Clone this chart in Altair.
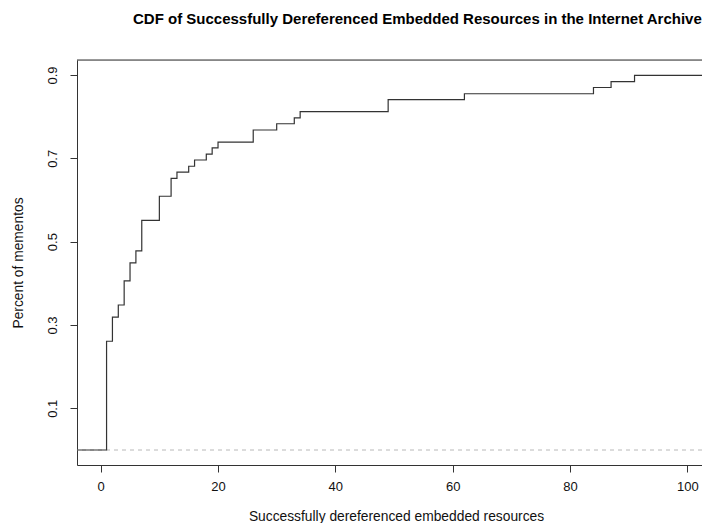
import altair as alt
import pandas as pd

# Step points of the CDF (x = resources, y = fraction of mementos)
step_x = [-4.04, 1, 2, 3, 4, 5, 6, 7, 10, 12, 13, 15, 16, 18, 19, 20, 26, 30, 33, 34, 49, 62, 84, 87, 91, 105]
step_y = [0.0, 0.261, 0.319, 0.348, 0.406, 0.449, 0.478, 0.551, 0.609, 0.652, 0.667, 0.681, 0.696,
          0.710, 0.725, 0.739, 0.768, 0.783, 0.797, 0.812, 0.841, 0.855, 0.870, 0.884, 0.899, 0.899]
x_ticks = [0, 20, 40, 60, 80, 100]
y_ticks = [0.1, 0.3, 0.5, 0.7, 0.9]
baseline_level = [0.0]

FONT = "Liberation Sans"
W, H = 625, 405

df = pd.DataFrame({"x": step_x, "y": step_y})

xscale = alt.Scale(domain=[-4.04, 102.5], nice=False, zero=False)
yscale = alt.Scale(domain=[-0.036, 0.936], nice=False, zero=False)

xaxis = alt.Axis(values=x_ticks, grid=False, tickSize=7, tickColor="#333", domainColor="#333",
                 labelFont=FONT, labelFontSize=13, labelColor="#111", labelPadding=8,
                 title="Successfully dereferenced embedded resources", titleFont=FONT,
                 titleFontSize=13.8, titleFontWeight="normal", titleColor="#111",
                 titleBaseline="alphabetic", titleY=55, titleX=319)
yaxis = alt.Axis(values=y_ticks, grid=False, tickSize=7, tickColor="#333", domainColor="#333",
                 labelFont=FONT, labelFontSize=13, labelColor="#111", labelAngle=-90,
                 labelAlign="center", labelBaseline="middle", labelPadding=18, format=".1f",
                 title="Percent of mementos", titleFont=FONT, titleFontSize=13.8,
                 titleFontWeight="normal", titleColor="#111", titleAngle=-90,
                 titleBaseline="middle", titleX=-59, titleY=H / 2)

line = alt.Chart(df).mark_line(interpolate="step-after", color="#333", strokeWidth=1.2, clip=True).encode(
    x=alt.X("x:Q", scale=xscale, axis=xaxis),
    y=alt.Y("y:Q", scale=yscale, axis=yaxis),
)

dashed = alt.Chart(pd.DataFrame({"y": baseline_level})).mark_rule(
    color="#b8b8b8", strokeDash=[4, 4], strokeWidth=1
).encode(y=alt.Y("y:Q", scale=yscale))

top_border = alt.Chart(pd.DataFrame({"y": baseline_level})).mark_rule(
    color="#333", strokeWidth=1
).encode(y=alt.value(0))

chart = alt.layer(dashed, line, top_border).properties(
    width=W, height=H,
    autosize=alt.AutoSizeParams(type="none"),
    padding={"left": 69, "top": 52, "right": 0, "bottom": 58},
    title=alt.TitleParams(
        "CDF of Successfully Dereferenced Embedded Resources in the Internet Archive",
        font=FONT, fontSize=15, fontWeight="bold", color="#000", anchor="start",
        frame="group", dx=56, offset=21, baseline="alphabetic",
    ),
).configure_view(stroke=None).configure(background="white")

chart.save("out.html", embed_options={"renderer": "svg", "actions": False})
